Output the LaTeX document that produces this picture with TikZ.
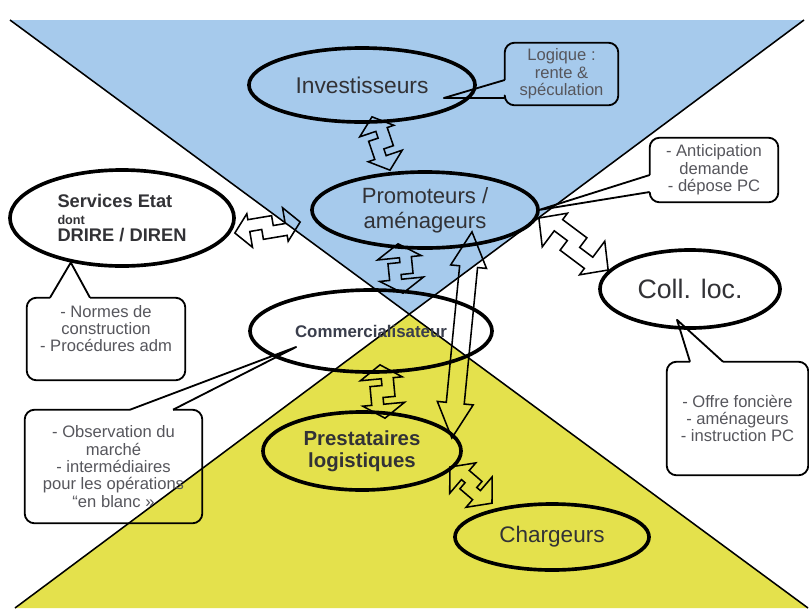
\documentclass[tikz,border=0pt]{standalone}
\usepackage{fontspec}
\setmainfont{Liberation Sans}
\usetikzlibrary{calc,shapes.geometric}

\definecolor{skyfill}{RGB}{166,202,236}
\definecolor{sunfill}{RGB}{228,225,76}
\definecolor{inkgray}{RGB}{50,50,54}
\definecolor{comgray}{RGB}{58,62,76}
\definecolor{notegray}{RGB}{86,86,92}

% zigzag double block arrow: ends, head length, head half width, shaft half width, step
\newcommand\zzarrow[6]{%
	\coordinate (zzA) at (#1);
	\coordinate (zzB) at (#2);
	\coordinate (zzM) at ($(zzA)!0.5!(zzB)$);
	\begin{scope}[x={($(zzA)!0.025cm!(zzB)-(zzA)$)}, y={($(zzA)!0.025cm!90:(zzB)-(zzA)$)}]
		\draw[zzline] (zzA) -- ($(zzA)+(#3,#4)$) -- ($(zzA)+(#3,#6+#5)$)
			-- ($(zzM)+(#5,#6+#5)$) -- ($(zzM)+(#5,#5-#6)$)
			-- ($(zzB)+(-#3,#5-#6)$) -- ($(zzB)+(-#3,#4)$) -- (zzB)
			-- ($(zzB)+(-#3,-#4)$) -- ($(zzB)+(-#3,-#6-#5)$)
			-- ($(zzM)+(-#5,-#6-#5)$) -- ($(zzM)+(-#5,#6-#5)$)
			-- ($(zzA)+(#3,#6-#5)$) -- ($(zzA)+(#3,-#4)$) -- cycle;
	\end{scope}}

\begin{document}
\begin{tikzpicture}[
	x=0.025cm, y=-0.025cm,
	actor/.style={ ellipse, draw, line width=2.6pt, inner sep=0pt, text=inkgray },
	note/.style={ rectangle, inner sep=0pt, align=center, text=notegray, font=\fontsize{11.8}{12.4}\selectfont },
	noteline/.style={ line width=1.3pt, line join=round },
	diag/.style={ line width=1.1pt },
	zzline/.style={ draw, line width=1.1pt, line join=miter }
]

% page and the two triangles
\fill[white] (0,0) rectangle (809,614);
\useasboundingbox (0,0) rectangle (809,614);
\coordinate (tl) at (10,20);
\coordinate (tr) at (804,20);
\coordinate (bl) at (15,608);
\coordinate (br) at (808,608);
\coordinate (mid) at (intersection of tl--br and tr--bl);
\fill[skyfill] (tl) -- (tr) -- (mid) -- cycle;
\fill[sunfill] (bl) -- (br) -- (mid) -- cycle;
\foreach \a/\b in {tl/br,tr/bl} \draw[diag] (\a) to (\b);

% actors
\node at (362,85) (inv) [actor, minimum width=5.65cm, minimum height=1.85cm, font=\fontsize{16.2}{18}\selectfont] {Investisseurs};
\node at (425,210) (pro) [actor, minimum width=5.65cm, minimum height=1.9cm, align=center, font=\fontsize{15.7}{17.8}\selectfont] {Promoteurs /\\aménageurs};
\node at (122,218) (ser) [actor, minimum width=5.6cm, minimum height=2.4cm, align=left, font=\bfseries\fontsize{13}{12}\selectfont] {Services Etat\\{\fontsize{9}{10}\selectfont dont}\\DRIRE / DIREN};
\node at (371,331) (com) [actor, minimum width=6.05cm, minimum height=2.05cm, text=comgray, font=\bfseries\fontsize{12}{14}\selectfont] {Commercialisateur};
\node at (690,289) (coll) [actor, minimum width=4.5cm, minimum height=1.95cm, font=\fontsize{19}{22}\selectfont] {Coll. loc.};
\node at (362,451) (pre) [actor, minimum width=4.95cm, minimum height=1.95cm, align=center, font=\bfseries\fontsize{14.5}{15.6}\selectfont] {Prestataires\\logistiques};
\node at (552,537) (cha) [actor, minimum width=4.85cm, minimum height=1.65cm, font=\fontsize{16}{18}\selectfont] {Chargeurs};

% callouts
\node at (561.5,74) (nA) [note, minimum width=2.825cm, minimum height=1.55cm] {Logique :\\rente \&\\spéculation};
\node at (714,170) (nB) [note, minimum width=3.2cm, minimum height=1.6cm] {- Anticipation\\demande\\- dépose PC};
\node at (106,339) (nC) [note, minimum width=3.95cm, minimum height=2.05cm, text depth=15pt] {- Normes de\\construction\\- Procédures adm};
\node at (113.5,466.5) (nD) [note, minimum width=4.425cm, minimum height=2.825cm] {- Observation du\\marché\\- intermédiaires\\pour les opérations\\“en blanc »};
\node at (737.5,418.5) (nE) [note, minimum width=3.525cm, minimum height=2.825cm] {- Offre foncière\\- aménageurs\\- instruction PC};

\coordinate (tA) at ($(inv.east)+(-33,13)$);
\coordinate (tB) at ($(pro.east)+(-1,0)$);
\coordinate (tC) at (ser.-139);
\coordinate (tD) at ($(com.west)+(48,16)$);
\coordinate (tE) at ($(coll.south)+(-13,-10)$);

\draw[noteline, rounded corners=7pt] ($(nA.west)+(0,24)$) -- (nA.south west) -- (nA.south east) -- (nA.north east) -- (nA.north west) -- ($(nA.west)+(0,6)$);
\draw[noteline] ($(nA.west)+(0,6)$) -- (tA) -- ($(nA.west)+(0,24)$);
\draw[noteline, rounded corners=7pt] ($(nB.west)+(0,22)$) -- (nB.south west) -- (nB.south east) -- (nB.north east) -- (nB.north west) -- ($(nB.west)+(0,5)$);
\draw[noteline] ($(nB.west)+(0,5)$) -- (tB) -- ($(nB.west)+(0,22)$);
\draw[noteline, rounded corners=7pt] ($(nC.north)+(-16,0)$) -- (nC.north east) -- (nC.south east) -- (nC.south west) -- (nC.north west) -- ($(nC.north)+(-56,0)$);
\draw[noteline] ($(nC.north)+(-56,0)$) -- (tC) -- ($(nC.north)+(-16,0)$);
\draw[noteline, rounded corners=7pt] ($(nD.north)+(59.5,0)$) -- (nD.north east) -- (nD.south east) -- (nD.south west) -- (nD.north west) -- ($(nD.north)+(16.5,0)$);
\draw[noteline] ($(nD.north)+(16.5,0)$) -- (tD) -- ($(nD.north)+(59.5,0)$);
\draw[noteline, rounded corners=7pt] ($(nE.north)+(-14.5,0)$) -- (nE.north east) -- (nE.south east) -- (nE.south west) -- (nE.north west) -- ($(nE.north)+(-47.5,0)$);
\draw[noteline] ($(nE.north)+(-47.5,0)$) -- (tE) -- ($(nE.north)+(-14.5,0)$);

% arrows
\zzarrow{$(inv.south)+(10,-7)$}{$(pro.north)+(-35,0)$}{15}{18}{6}{5}
\zzarrow{$(ser.east)+(-1,15)$}{$(pro.west)+(-10,12)$}{15}{17}{6}{5}
\zzarrow{$(pro.south)+(-27,-6)$}{$(com.north)+(32,5)$}{14}{22}{6}{6}
\zzarrow{$(com.south)+(9,-9)$}{$(pre.north)+(23,8)$}{14}{21}{6}{6}
\zzarrow{$(pro.east)+(-1,8)$}{$(coll.west)+(10,-19)$}{20}{21}{7}{6}
\zzarrow{$(pre.east)+(-13,16)$}{$(cha.north)+(-60,1)$}{17}{20}{6}{4}
\zzarrow{$(pro.south)+(47,-18)$}{$(pre.east)+(-11,-13)$}{35}{18}{9}{0}

\end{tikzpicture}
\end{document}
